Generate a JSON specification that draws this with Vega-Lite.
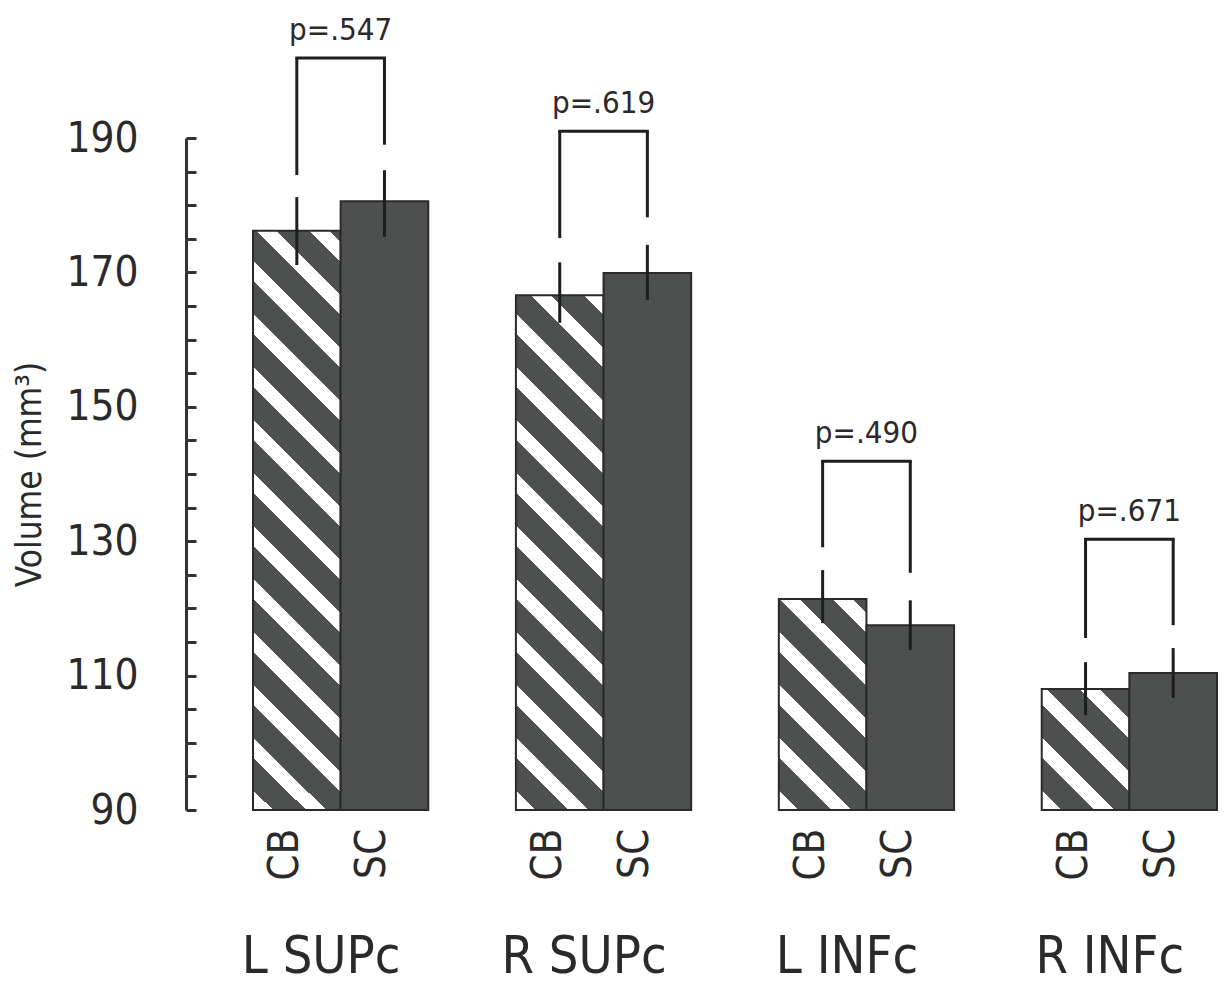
{
  "$schema": "https://vega.github.io/schema/vega-lite/v6.json",
  "autosize": "none",
  "width": 1039,
  "height": 672,
  "padding": {"left": 186, "top": 138, "right": 0, "bottom": 184},
  "background": "white",
  "config": {
    "view": {"stroke": null},
    "font": "DejaVu Sans Condensed, DejaVu Sans, sans-serif",
    "axis": {"labelColor": "#2a2a2a", "titleColor": "#2a2a2a", "titleFontWeight": "normal", "labelFont": "DejaVu Sans Condensed, DejaVu Sans, sans-serif", "titleFont": "DejaVu Sans Condensed, DejaVu Sans, sans-serif"},
    "axisY": {"values": [90, 95, 100, 105, 110, 115, 120, 125, 130, 135, 140, 145, 150, 155, 160, 165, 170, 175, 180, 185, 190], "labelExpr": "datum.value % 20 == 10 ? datum.label : ''", "labelOverlap": false, "labelFontSize": 42, "labelPadding": 58, "tickSize": -10, "tickWidth": 3, "tickColor": "#333333", "domainColor": "#333333", "domainWidth": 3, "grid": false, "titleFontSize": 35, "titlePadding": 18},
    "text": {"font": "DejaVu Sans Condensed, DejaVu Sans, sans-serif"}
  },
  "datasets": {
    "bars": [
      {"region": "L SUPc", "grp": "CB", "bar": "L SUPc CB", "mean": 176.2, "lo": 171.1, "hi": 181.2, "top": 201.9, "drop": 184.5},
      {"region": "L SUPc", "grp": "SC", "bar": "L SUPc SC", "mean": 180.6, "lo": 175.3, "hi": 185.2, "top": 201.9, "drop": 189.0},
      {"region": "R SUPc", "grp": "CB", "bar": "R SUPc CB", "mean": 166.6, "lo": 162.5, "hi": 171.5, "top": 191.0, "drop": 175.1},
      {"region": "R SUPc", "grp": "SC", "bar": "R SUPc SC", "mean": 169.9, "lo": 165.9, "hi": 174.1, "top": 191.0, "drop": 178.2},
      {"region": "L INFc", "grp": "CB", "bar": "L INFc CB", "mean": 121.4, "lo": 117.8, "hi": 125.7, "top": 141.9, "drop": 129.1},
      {"region": "L INFc", "grp": "SC", "bar": "L INFc SC", "mean": 117.5, "lo": 113.8, "hi": 121.2, "top": 141.9, "drop": 125.3},
      {"region": "R INFc", "grp": "CB", "bar": "R INFc CB", "mean": 108.0, "lo": 104.1, "hi": 112.0, "top": 130.3, "drop": 115.6},
      {"region": "R INFc", "grp": "SC", "bar": "R INFc SC", "mean": 110.4, "lo": 106.7, "hi": 114.1, "top": 130.3, "drop": 117.5}
    ],
    "regions": [
      {"region": "L SUPc", "cb": "L SUPc CB", "sc": "L SUPc SC", "top": 201.9, "p": "p=.547"},
      {"region": "R SUPc", "cb": "R SUPc CB", "sc": "R SUPc SC", "top": 191.0, "p": "p=.619"},
      {"region": "L INFc", "cb": "L INFc CB", "sc": "L INFc SC", "top": 141.9, "p": "p=.490"},
      {"region": "R INFc", "cb": "R INFc CB", "sc": "R INFc SC", "top": 130.3, "p": "p=.671"}
    ]
  },
  "resolve": {"scale": {"x": "independent"}, "axis": {"x": "independent"}},
  "layer": [
    {
      "layer": [
        {
          "data": {"name": "bars"},
          "mark": {"type": "bar", "stroke": "#2a2a2a", "strokeWidth": 2},
          "encoding": {
            "x": {"field": "bar", "type": "nominal", "title": null,
              "scale": {"domain": ["L SUPc CB", "L SUPc SC", "g1", "R SUPc CB", "R SUPc SC", "g2", "L INFc CB", "L INFc SC", "g3", "R INFc CB", "R INFc SC"], "range": [67, 1031], "paddingInner": 0, "paddingOuter": 0},
              "axis": {"orient": "bottom", "domain": false, "ticks": false, "labelAngle": -90, "labelFontSize": 42, "labelPadding": 18, "labelOffset": -12, "labelExpr": "indexof(datum.value, ' ') > 0 ? slice(datum.value, -2) : ''"}},
            "y": {"field": "mean", "type": "quantitative", "title": "Volume (mm³)",
              "scale": {"domain": [90, 190], "nice": false, "zero": false}},
            "y2": {"datum": 90},
            "fill": {
              "condition": [
                {"test": "datum.bar === 'L SUPc CB'", "value": {"gradient": "linear", "x1": 0, "y1": 1, "x2": 0.1759, "y2": -0.16276, "stops": [
                  {"offset": 0, "color": "#ffffff"}, {"offset": 0.029028, "color": "#ffffff"}, {"offset": 0.029028, "color": "#4e5050"}, {"offset": 0.076923, "color": "#4e5050"},
                  {"offset": 0.076923, "color": "#ffffff"}, {"offset": 0.105951, "color": "#ffffff"}, {"offset": 0.105951, "color": "#4e5050"}, {"offset": 0.153846, "color": "#4e5050"},
                  {"offset": 0.153846, "color": "#ffffff"}, {"offset": 0.182874, "color": "#ffffff"}, {"offset": 0.182874, "color": "#4e5050"}, {"offset": 0.230769, "color": "#4e5050"},
                  {"offset": 0.230769, "color": "#ffffff"}, {"offset": 0.259797, "color": "#ffffff"}, {"offset": 0.259797, "color": "#4e5050"}, {"offset": 0.307692, "color": "#4e5050"},
                  {"offset": 0.307692, "color": "#ffffff"}, {"offset": 0.33672, "color": "#ffffff"}, {"offset": 0.33672, "color": "#4e5050"}, {"offset": 0.384615, "color": "#4e5050"},
                  {"offset": 0.384615, "color": "#ffffff"}, {"offset": 0.413643, "color": "#ffffff"}, {"offset": 0.413643, "color": "#4e5050"}, {"offset": 0.461538, "color": "#4e5050"},
                  {"offset": 0.461538, "color": "#ffffff"}, {"offset": 0.490566, "color": "#ffffff"}, {"offset": 0.490566, "color": "#4e5050"}, {"offset": 0.538462, "color": "#4e5050"},
                  {"offset": 0.538462, "color": "#ffffff"}, {"offset": 0.56749, "color": "#ffffff"}, {"offset": 0.56749, "color": "#4e5050"}, {"offset": 0.615385, "color": "#4e5050"},
                  {"offset": 0.615385, "color": "#ffffff"}, {"offset": 0.644413, "color": "#ffffff"}, {"offset": 0.644413, "color": "#4e5050"}, {"offset": 0.692308, "color": "#4e5050"},
                  {"offset": 0.692308, "color": "#ffffff"}, {"offset": 0.721336, "color": "#ffffff"}, {"offset": 0.721336, "color": "#4e5050"}, {"offset": 0.769231, "color": "#4e5050"},
                  {"offset": 0.769231, "color": "#ffffff"}, {"offset": 0.798259, "color": "#ffffff"}, {"offset": 0.798259, "color": "#4e5050"}, {"offset": 0.846154, "color": "#4e5050"},
                  {"offset": 0.846154, "color": "#ffffff"}, {"offset": 0.875182, "color": "#ffffff"}, {"offset": 0.875182, "color": "#4e5050"}, {"offset": 0.923077, "color": "#4e5050"},
                  {"offset": 0.923077, "color": "#ffffff"}, {"offset": 0.952105, "color": "#ffffff"}, {"offset": 0.952105, "color": "#4e5050"}, {"offset": 1, "color": "#4e5050"}
                ]}},
                {"test": "datum.bar === 'R SUPc CB'", "value": {"gradient": "linear", "x1": 0, "y1": 1, "x2": 0.20443, "y2": -0.20075, "stops": [
                  {"offset": 0, "color": "#ffffff"}, {"offset": 0.031447, "color": "#ffffff"}, {"offset": 0.031447, "color": "#4e5050"}, {"offset": 0.083333, "color": "#4e5050"},
                  {"offset": 0.083333, "color": "#ffffff"}, {"offset": 0.11478, "color": "#ffffff"}, {"offset": 0.11478, "color": "#4e5050"}, {"offset": 0.166667, "color": "#4e5050"},
                  {"offset": 0.166667, "color": "#ffffff"}, {"offset": 0.198113, "color": "#ffffff"}, {"offset": 0.198113, "color": "#4e5050"}, {"offset": 0.25, "color": "#4e5050"},
                  {"offset": 0.25, "color": "#ffffff"}, {"offset": 0.281447, "color": "#ffffff"}, {"offset": 0.281447, "color": "#4e5050"}, {"offset": 0.333333, "color": "#4e5050"},
                  {"offset": 0.333333, "color": "#ffffff"}, {"offset": 0.36478, "color": "#ffffff"}, {"offset": 0.36478, "color": "#4e5050"}, {"offset": 0.416667, "color": "#4e5050"},
                  {"offset": 0.416667, "color": "#ffffff"}, {"offset": 0.448113, "color": "#ffffff"}, {"offset": 0.448113, "color": "#4e5050"}, {"offset": 0.5, "color": "#4e5050"},
                  {"offset": 0.5, "color": "#ffffff"}, {"offset": 0.531447, "color": "#ffffff"}, {"offset": 0.531447, "color": "#4e5050"}, {"offset": 0.583333, "color": "#4e5050"},
                  {"offset": 0.583333, "color": "#ffffff"}, {"offset": 0.61478, "color": "#ffffff"}, {"offset": 0.61478, "color": "#4e5050"}, {"offset": 0.666667, "color": "#4e5050"},
                  {"offset": 0.666667, "color": "#ffffff"}, {"offset": 0.698113, "color": "#ffffff"}, {"offset": 0.698113, "color": "#4e5050"}, {"offset": 0.75, "color": "#4e5050"},
                  {"offset": 0.75, "color": "#ffffff"}, {"offset": 0.781447, "color": "#ffffff"}, {"offset": 0.781447, "color": "#4e5050"}, {"offset": 0.833333, "color": "#4e5050"},
                  {"offset": 0.833333, "color": "#ffffff"}, {"offset": 0.86478, "color": "#ffffff"}, {"offset": 0.86478, "color": "#4e5050"}, {"offset": 0.916667, "color": "#4e5050"},
                  {"offset": 0.916667, "color": "#ffffff"}, {"offset": 0.948113, "color": "#ffffff"}, {"offset": 0.948113, "color": "#4e5050"}, {"offset": 1, "color": "#4e5050"}
                ]}},
                {"test": "datum.bar === 'L INFc CB'", "value": {"gradient": "linear", "x1": 0, "y1": 1, "x2": 0.53382, "y2": -0.28534, "stops": [
                  {"offset": 0, "color": "#ffffff"}, {"offset": 0.062893, "color": "#ffffff"}, {"offset": 0.062893, "color": "#4e5050"}, {"offset": 0.166667, "color": "#4e5050"},
                  {"offset": 0.166667, "color": "#ffffff"}, {"offset": 0.22956, "color": "#ffffff"}, {"offset": 0.22956, "color": "#4e5050"}, {"offset": 0.333333, "color": "#4e5050"},
                  {"offset": 0.333333, "color": "#ffffff"}, {"offset": 0.396226, "color": "#ffffff"}, {"offset": 0.396226, "color": "#4e5050"}, {"offset": 0.5, "color": "#4e5050"},
                  {"offset": 0.5, "color": "#ffffff"}, {"offset": 0.562893, "color": "#ffffff"}, {"offset": 0.562893, "color": "#4e5050"}, {"offset": 0.666667, "color": "#4e5050"},
                  {"offset": 0.666667, "color": "#ffffff"}, {"offset": 0.72956, "color": "#ffffff"}, {"offset": 0.72956, "color": "#4e5050"}, {"offset": 0.833333, "color": "#4e5050"},
                  {"offset": 0.833333, "color": "#ffffff"}, {"offset": 0.896226, "color": "#ffffff"}, {"offset": 0.896226, "color": "#4e5050"}, {"offset": 1, "color": "#4e5050"}
                ]}},
                {"test": "datum.bar === 'R INFc CB'", "value": {"gradient": "linear", "x1": 0, "y1": 1, "x2": 0.83271, "y2": -0.14934, "stops": [
                  {"offset": 0, "color": "#ffffff"}, {"offset": 0.09434, "color": "#ffffff"}, {"offset": 0.09434, "color": "#4e5050"}, {"offset": 0.25, "color": "#4e5050"},
                  {"offset": 0.25, "color": "#ffffff"}, {"offset": 0.34434, "color": "#ffffff"}, {"offset": 0.34434, "color": "#4e5050"}, {"offset": 0.5, "color": "#4e5050"},
                  {"offset": 0.5, "color": "#ffffff"}, {"offset": 0.59434, "color": "#ffffff"}, {"offset": 0.59434, "color": "#4e5050"}, {"offset": 0.75, "color": "#4e5050"},
                  {"offset": 0.75, "color": "#ffffff"}, {"offset": 0.84434, "color": "#ffffff"}, {"offset": 0.84434, "color": "#4e5050"}, {"offset": 1, "color": "#4e5050"}
                ]}}
              ],
              "value": "#4e5050"
            }
          }
        },
        {
          "data": {"name": "bars"},
          "mark": {"type": "rule", "color": "#1e1e1e", "strokeWidth": 3},
          "encoding": {
            "x": {"field": "bar", "type": "nominal", "title": null,
              "scale": {"domain": ["L SUPc CB", "L SUPc SC", "g1", "R SUPc CB", "R SUPc SC", "g2", "L INFc CB", "L INFc SC", "g3", "R INFc CB", "R INFc SC"], "range": [67, 1031], "paddingInner": 0, "paddingOuter": 0}},
            "y": {"field": "lo", "type": "quantitative", "title": "Volume (mm³)"},
            "y2": {"field": "hi"}
          }
        },
        {
          "data": {"name": "bars"},
          "mark": {"type": "rule", "color": "#1e1e1e", "strokeWidth": 3},
          "encoding": {
            "x": {"field": "bar", "type": "nominal", "title": null,
              "scale": {"domain": ["L SUPc CB", "L SUPc SC", "g1", "R SUPc CB", "R SUPc SC", "g2", "L INFc CB", "L INFc SC", "g3", "R INFc CB", "R INFc SC"], "range": [67, 1031], "paddingInner": 0, "paddingOuter": 0}},
            "y": {"field": "drop", "type": "quantitative", "title": "Volume (mm³)"},
            "y2": {"field": "top"}
          }
        },
        {
          "data": {"name": "regions"},
          "mark": {"type": "rule", "color": "#1e1e1e", "strokeWidth": 3, "strokeCap": "square"},
          "encoding": {
            "x": {"field": "cb", "type": "nominal", "title": null,
              "scale": {"domain": ["L SUPc CB", "L SUPc SC", "g1", "R SUPc CB", "R SUPc SC", "g2", "L INFc CB", "L INFc SC", "g3", "R INFc CB", "R INFc SC"], "range": [67, 1031], "paddingInner": 0, "paddingOuter": 0}},
            "x2": {"field": "sc"},
            "y": {"field": "top", "type": "quantitative", "title": "Volume (mm³)"}
          }
        }
      ]
    },
    {
      "data": {"name": "regions"},
      "mark": {"type": "text", "fontSize": 31, "color": "#2a2a2a", "baseline": "alphabetic", "dy": -18},
      "encoding": {
        "x": {"field": "region", "type": "nominal", "title": null,
          "scale": {"domain": ["L SUPc", "R SUPc", "L INFc", "R INFc"], "range": [23.2, 1074.8], "paddingInner": 0, "paddingOuter": 0},
          "axis": {"orient": "bottom", "domain": false, "ticks": false, "labelAngle": 0, "labelFontSize": 52, "labelLimit": 500, "labelBaseline": "alphabetic", "labelPadding": 162, "labelOffset": -20}},
        "y": {"field": "top", "type": "quantitative", "title": "Volume (mm³)"},
        "text": {"field": "p"}
      }
    }
  ]
}
